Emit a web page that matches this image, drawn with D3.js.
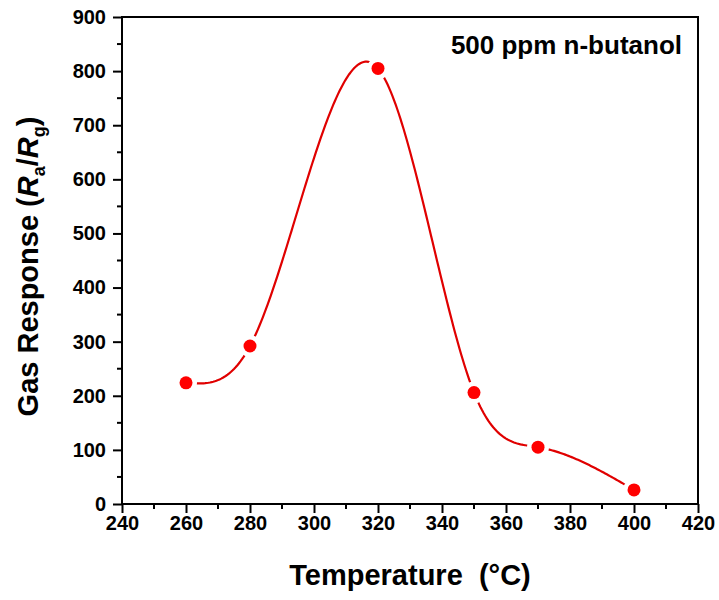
<!DOCTYPE html>
<html>
<head>
<meta charset="utf-8">
<script src="https://cdn.jsdelivr.net/npm/d3@7"></script>
<style>
  body { margin: 0; background: #fff; }
  svg { display: block; font-family: "Liberation Sans", Arial, sans-serif; font-weight: bold; }
</style>
</head>
<body>
<script>
// data
var temperature = [260, 280, 320, 350, 370, 400];
var response = [224, 292, 805, 206, 105, 26];
var xTicks = [240, 260, 280, 300, 320, 340, 360, 380, 400, 420];
var yTicks = [0, 100, 200, 300, 400, 500, 600, 700, 800, 900];

// natural cubic spline y(x) through the points (like the origin "spline" line)
function naturalSpline(xs, ys) {
  var n = xs.length;
  var h = [], s = [];
  for (var i = 0; i < n - 1; i++) {
    h.push(xs[i + 1] - xs[i]);
    s.push((ys[i + 1] - ys[i]) / h[i]);
  }
  // tridiagonal solve for second derivatives, M0 = Mn = 0
  var M = new Array(n).fill(0);
  var a = [], b = [], c = [], r = [];
  for (var i = 1; i < n - 1; i++) {
    a.push(h[i - 1]);
    b.push(2 * (h[i - 1] + h[i]));
    c.push(h[i]);
    r.push(6 * (s[i] - s[i - 1]));
  }
  var m = b.length;
  for (var i = 1; i < m; i++) {
    var w = a[i] / b[i - 1];
    b[i] -= w * c[i - 1];
    r[i] -= w * r[i - 1];
  }
  var sol = new Array(m);
  sol[m - 1] = r[m - 1] / b[m - 1];
  for (var i = m - 2; i >= 0; i--) sol[i] = (r[i] - c[i] * sol[i + 1]) / b[i];
  for (var i = 0; i < m; i++) M[i + 1] = sol[i];

  return function(x) {
    var k = 0;
    while (k < n - 2 && x > xs[k + 1]) k++;
    var t1 = xs[k + 1] - x, t0 = x - xs[k], hk = h[k];
    return M[k] * t1 * t1 * t1 / (6 * hk) + M[k + 1] * t0 * t0 * t0 / (6 * hk)
      + (ys[k] / hk - M[k] * hk / 6) * t1 + (ys[k + 1] / hk - M[k + 1] * hk / 6) * t0;
  };
}

function drawChart() {
  var w = 719, h = 600;
  var margin = { top: 17, right: 21, bottom: 96, left: 122 };
  var width = w - margin.left - margin.right,
      height = h - margin.top - margin.bottom;

  var svg = d3.select("body").append("svg")
    .attr("width", w)
    .attr("height", h);

  var g = svg.append("g")
    .attr("transform", "translate(" + margin.left + "," + margin.top + ")");

  var x = d3.scaleLinear().domain([240, 420]).range([0, width]);
  var y = d3.scaleLinear().domain([0, 900]).range([height, 0]);

  // minor ticks
  var xMinor = d3.range(250, 420, 20);
  var yMinor = d3.range(50, 900, 100);

  g.selectAll(".xminor").data(xMinor).enter().append("line")
    .attr("x1", function(d) { return x(d); })
    .attr("x2", function(d) { return x(d); })
    .attr("y1", height).attr("y2", height + 5)
    .attr("stroke", "#000").attr("stroke-width", 2);

  g.selectAll(".yminor").data(yMinor).enter().append("line")
    .attr("y1", function(d) { return y(d); })
    .attr("y2", function(d) { return y(d); })
    .attr("x1", 0).attr("x2", -5)
    .attr("stroke", "#000").attr("stroke-width", 2);

  var xAxis = d3.axisBottom(x).tickValues(xTicks).tickSize(9).tickPadding(3);
  var yAxis = d3.axisLeft(y).tickValues(yTicks).tickSize(9).tickPadding(7);

  var gx = g.append("g")
    .attr("transform", "translate(0," + height + ")")
    .call(xAxis);
  var gy = g.append("g").call(yAxis);

  [gx, gy].forEach(function(a) {
    a.select(".domain").remove();
    a.selectAll("line").attr("stroke", "#000").attr("stroke-width", 2);
    a.selectAll("text")
      .attr("font-family", "'Liberation Sans', Arial, sans-serif")
      .attr("font-weight", "bold")
      .attr("font-size", "20px")
      .attr("fill", "#000");
  });

  // frame
  g.append("rect")
    .attr("x", 0).attr("y", 0)
    .attr("width", width).attr("height", height)
    .attr("fill", "none")
    .attr("stroke", "#000")
    .attr("stroke-width", 2);

  // spline line
  var spline = naturalSpline(temperature, response);
  var xs = d3.range(temperature[0], temperature[temperature.length - 1] + 0.01, 0.5);
  var line = d3.line()
    .x(function(d) { return x(d); })
    .y(function(d) { return y(spline(d)); });

  g.append("path")
    .datum(xs)
    .attr("d", line)
    .attr("fill", "none")
    .attr("stroke", "#e00000")
    .attr("stroke-width", 2.2);

  // markers with white halo to give the gap around them
  g.selectAll("circle")
    .data(response)
    .enter()
    .append("circle")
    .attr("cx", function(d, i) { return x(temperature[i]); })
    .attr("cy", function(d) { return y(d); })
    .attr("r", 6.5)
    .attr("fill", "#ff0000")
    .attr("stroke", "#fff")
    .attr("stroke-width", 9)
    .attr("paint-order", "stroke");

  // annotation
  g.append("text")
    .attr("x", width - 16)
    .attr("y", 37)
    .attr("text-anchor", "end")
    .attr("font-size", "26px")
    .text("500 ppm n-butanol");

  // x title
  svg.append("text")
    .attr("x", margin.left + width / 2)
    .attr("y", 585)
    .attr("text-anchor", "middle")
    .attr("font-size", "29px")
    .attr("xml:space", "preserve")
    .text("Temperature  (\u00B0C)");

  // y title
  var yt = svg.append("text")
    .attr("transform", "translate(38," + (margin.top + height / 2 + 6) + ") rotate(-90)")
    .attr("text-anchor", "middle")
    .attr("font-size", "29px");
  yt.append("tspan").text("Gas Response (");
  yt.append("tspan").attr("font-style", "italic").text("R");
  yt.append("tspan").attr("font-size", "18px").attr("dy", 7).text("a");
  yt.append("tspan").attr("dy", -7).text("/");
  yt.append("tspan").attr("font-style", "italic").text("R");
  yt.append("tspan").attr("font-size", "18px").attr("dy", 7).text("g");
  yt.append("tspan").attr("dy", -7).text(")");
}

window.onload = function() {
  drawChart();
};
</script>
</body>
</html>
